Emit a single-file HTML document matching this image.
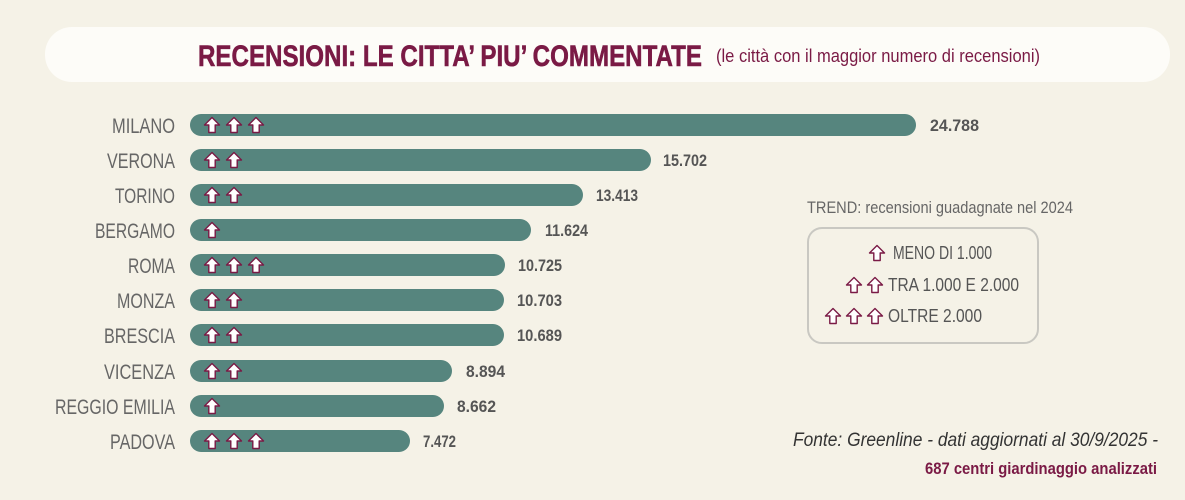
<!DOCTYPE html>
<html><head><meta charset="utf-8"><style>
html,body{margin:0;padding:0;background:#f5f2e7;}
svg{display:block;font-family:"Liberation Sans Narrow","Liberation Sans",sans-serif;}
</style></head><body>
<svg width="1185" height="500" viewBox="0 0 1185 500" xmlns="http://www.w3.org/2000/svg">
<defs>
<path id="ar" d="M0,-7.5 L7.5,0 L3.2,0 L3.2,7.5 L-3.2,7.5 L-3.2,0 L-7.5,0 Z" fill="#fff" stroke="#7a1a45" stroke-width="1.4" stroke-linejoin="round"/>
</defs>
<rect width="1185" height="500" fill="#f5f2e7"/>
<rect x="45" y="27" width="1125" height="55" rx="27" fill="#fdfcf8"/>
<text x="198" y="66" font-size="30" font-weight="bold" fill="#7a1a45" stroke="#7a1a45" stroke-width="0.6" textLength="504" lengthAdjust="spacingAndGlyphs">RECENSIONI: LE CITTA’ PIU’ COMMENTATE</text>
<text x="716" y="62" font-size="18" fill="#7a1a45" textLength="324" lengthAdjust="spacingAndGlyphs">(le città con il maggior numero di recensioni)</text>

<g fill="#56857e">
<rect x="190" y="114" width="726" height="22" rx="11"/>
<rect x="190" y="149" width="461" height="22" rx="11"/>
<rect x="190" y="184" width="393" height="22" rx="11"/>
<rect x="190" y="219" width="341" height="22" rx="11"/>
<rect x="190" y="254" width="315" height="22" rx="11"/>
<rect x="190" y="289" width="314" height="22" rx="11"/>
<rect x="190" y="324" width="314" height="22" rx="11"/>
<rect x="190" y="360" width="262" height="22" rx="11"/>
<rect x="190" y="395" width="254" height="22" rx="11"/>
<rect x="190" y="430" width="220" height="22" rx="11"/>
</g>

<g font-size="21" fill="#666" text-anchor="end" lengthAdjust="spacingAndGlyphs">
<text x="175" y="133" textLength="63" lengthAdjust="spacingAndGlyphs">MILANO</text>
<text x="175" y="168" textLength="68" lengthAdjust="spacingAndGlyphs">VERONA</text>
<text x="175" y="203" textLength="60" lengthAdjust="spacingAndGlyphs">TORINO</text>
<text x="175" y="238" textLength="80" lengthAdjust="spacingAndGlyphs">BERGAMO</text>
<text x="175" y="273" textLength="47" lengthAdjust="spacingAndGlyphs">ROMA</text>
<text x="175" y="308" textLength="58" lengthAdjust="spacingAndGlyphs">MONZA</text>
<text x="175" y="343" textLength="71" lengthAdjust="spacingAndGlyphs">BRESCIA</text>
<text x="175" y="379" textLength="71" lengthAdjust="spacingAndGlyphs">VICENZA</text>
<text x="175" y="414" textLength="120" lengthAdjust="spacingAndGlyphs">REGGIO EMILIA</text>
<text x="175" y="449" textLength="65" lengthAdjust="spacingAndGlyphs">PADOVA</text>
</g>

<g font-size="17" font-weight="bold" fill="#555">
<text x="930" y="131" textLength="49" lengthAdjust="spacingAndGlyphs">24.788</text>
<text x="663" y="166" textLength="44" lengthAdjust="spacingAndGlyphs">15.702</text>
<text x="596" y="201" textLength="42" lengthAdjust="spacingAndGlyphs">13.413</text>
<text x="545" y="236" textLength="43" lengthAdjust="spacingAndGlyphs">11.624</text>
<text x="518" y="271" textLength="44" lengthAdjust="spacingAndGlyphs">10.725</text>
<text x="517" y="306" textLength="45" lengthAdjust="spacingAndGlyphs">10.703</text>
<text x="517" y="341" textLength="45" lengthAdjust="spacingAndGlyphs">10.689</text>
<text x="466" y="377" textLength="39" lengthAdjust="spacingAndGlyphs">8.894</text>
<text x="457" y="412" textLength="39" lengthAdjust="spacingAndGlyphs">8.662</text>
<text x="423" y="447" textLength="33" lengthAdjust="spacingAndGlyphs">7.472</text>
</g>

<g>
<use href="#ar" x="212" y="125"/><use href="#ar" x="234" y="125"/><use href="#ar" x="256" y="125"/>
<use href="#ar" x="212" y="160"/><use href="#ar" x="234" y="160"/>
<use href="#ar" x="212" y="195"/><use href="#ar" x="234" y="195"/>
<use href="#ar" x="212" y="230"/>
<use href="#ar" x="212" y="265"/><use href="#ar" x="234" y="265"/><use href="#ar" x="256" y="265"/>
<use href="#ar" x="212" y="300"/><use href="#ar" x="234" y="300"/>
<use href="#ar" x="212" y="335"/><use href="#ar" x="234" y="335"/>
<use href="#ar" x="212" y="371"/><use href="#ar" x="234" y="371"/>
<use href="#ar" x="212" y="406"/>
<use href="#ar" x="212" y="441"/><use href="#ar" x="234" y="441"/><use href="#ar" x="256" y="441"/>
</g>

<text x="807" y="213" font-size="17" fill="#666" textLength="266" lengthAdjust="spacingAndGlyphs">TREND: recensioni guadagnate nel 2024</text>
<rect x="808" y="228" width="230" height="115" rx="14" fill="none" stroke="#c9c8c2" stroke-width="2"/>
<g font-size="18" fill="#555">
<text x="893" y="259" textLength="99" lengthAdjust="spacingAndGlyphs">MENO DI 1.000</text>
<text x="888" y="291" textLength="131" lengthAdjust="spacingAndGlyphs">TRA 1.000 E 2.000</text>
<text x="888" y="322" textLength="94" lengthAdjust="spacingAndGlyphs">OLTRE 2.000</text>
</g>
<use href="#ar" x="877" y="253"/>
<use href="#ar" x="854" y="285"/><use href="#ar" x="875" y="285"/>
<use href="#ar" x="833" y="316"/><use href="#ar" x="854" y="316"/><use href="#ar" x="875" y="316"/>

<text x="793" y="446" font-size="19" font-style="italic" fill="#333" textLength="365" lengthAdjust="spacingAndGlyphs">Fonte: Greenline - dati aggiornati al 30/9/2025 -</text>
<text x="925" y="474" font-size="17" font-weight="bold" fill="#7a1a45" textLength="232" lengthAdjust="spacingAndGlyphs">687 centri giardinaggio analizzati</text>
</svg>
</body></html>
